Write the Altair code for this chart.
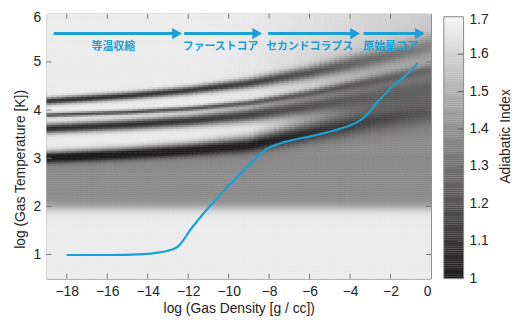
import numpy as np
import pandas as pd
import altair as alt

# ---------------- data ----------------
# evolution track (blue line)
track_logrho = [-18, -16, -14.2, -13.5, -13, -12.75, -12.5, -12.25, -12, -11.5, -11, -10.5, -10, -9.5,
                -9, -8.5, -8.2, -8, -7.5, -7, -6.5, -6, -5.5, -5, -4.5, -4, -3.6,
                -3.3, -3, -2.6, -2.2, -1.8, -1.4, -1, -0.65]
track_logT = [0.99, 0.99, 1.01, 1.04, 1.08, 1.11, 1.17, 1.29, 1.45, 1.72, 1.97, 2.20, 2.43, 2.64,
              2.85, 3.06, 3.17, 3.22, 3.30, 3.36, 3.41, 3.45, 3.50, 3.55, 3.61, 3.68, 3.76,
              3.85, 3.98, 4.19, 4.36, 4.53, 4.67, 4.82, 4.98]

# evolutionary phases (arrows on top)
phase_labels = ["等温収縮", "ファーストコア", "セカンドコラプス", "原始星コア"]
phase_start = [-18.65, -12.2, -8.05, -3.33]
phase_end = [-12.45, -8.49, -3.65, -0.45]
phase_label_x = [-15.7, -10.4, -6.0, -2.0]
arrow_logT = 5.59
label_logT = 5.30

# adiabatic-index field: dark bands (centre logT at density nodes)
node_logrho = [-19, -15, -12, -9, -6, -3, 0]
band_A = [4.19, 4.30, 4.41, 4.56, 4.78, 5.05, 5.35]
band_B = [3.90, 3.96, 4.03, 4.15, 4.35, 4.60, 4.85]
band_C = [3.62, 3.70, 3.78, 3.90, 4.08, 4.30, 4.50]
band_D = [3.03, 3.11, 3.19, 3.30, 3.58, 3.85, 4.05]
band_sigma = [0.05, 0.03, 0.07, 0.08]
band_depth = [0.62, 0.52, 0.62, 0.62]
band_spread = [1.0, 1.05, 1.15, 1.4, 1.9, 2.5, 3.0]
band_fade = [1.0, 1.0, 0.95, 0.85, 0.65, 0.45, 0.30]
dense_blend = [0.0, 0.0, 0.0, 0.05, 0.25, 0.5, 0.7]
gamma_light = 1.67
gamma_gray = 1.38
low_edge_logT = 1.97
upper_clear_logT = 5.3

x_ticks = [-18, -16, -14, -12, -10, -8, -6, -4, -2, 0]
y_ticks = [1, 2, 3, 4, 5, 6]
cbar_ticks = [1, 1.1, 1.2, 1.3, 1.4, 1.5, 1.6, 1.7]
cbar_tick_labels = ["1", "1.1", "1.2", "1.3", "1.4", "1.5", "1.6", "1.7"]

W, H = 389, 268

# ---------------- build the grid ----------------
nx, ny = 76, 134
dx, dy = 19 / nx, 5.5 / ny
xs = -19 + dx * np.arange(nx)
ys = 0.5 + dy * np.arange(ny)
X, Y = np.meshgrid(xs + dx / 2, ys + dy / 2)
sig = lambda z: 1 / (1 + np.exp(-z))
cD = np.interp(X, node_logrho, band_D)
s1 = sig((Y - low_edge_logT) / 0.06)
s2 = sig((Y - cD) / 0.04)
G = gamma_light - (gamma_light - gamma_gray) * s1 * (1 - s2)
b = np.interp(X, node_logrho, dense_blend) * sig((Y - 2.3) / 0.1)
b = b * (1 - 0.55 * sig((Y - upper_clear_logT) / 0.2))
G = G * (1 - b) + gamma_gray * b
spread = np.interp(X, node_logrho, band_spread)
fade = np.interp(X, node_logrho, band_fade)
for nodes, s, d in zip([band_A, band_B, band_C, band_D], band_sigma, band_depth):
    c = np.interp(X, node_logrho, nodes)
    G = G - d * fade * np.exp(-0.5 * ((Y - c) / (s * spread)) ** 2)
G = np.clip(G, 1.0, 1.7)
X0, Y0 = np.meshgrid(xs, ys)
grid = pd.DataFrame({
    "x0": np.round(X0.ravel(), 4), "x1": np.round(X0.ravel() + dx, 4),
    "y0": np.round(Y0.ravel(), 4), "y1": np.round(Y0.ravel() + dy, 4),
    "g": np.round(G.ravel(), 3)})

track = pd.DataFrame({"x": track_logrho, "y": track_logT})
phases = pd.DataFrame({"label": phase_labels, "x0": phase_start, "x1": phase_end,
                       "lx": phase_label_x, "ay": arrow_logT, "ly": label_logT})
xt = pd.DataFrame({"v": x_ticks[:-1]})
yt = pd.DataFrame({"v": y_ticks[:-1]})

FONT = "Liberation Sans"
BLUE = "#1a9fd6"
color_scale = alt.Scale(domain=[1, 1.7], range=["#1f1d1e", "#f7f7f7"])
xs_ = alt.Scale(domain=[-19, 0], nice=False, zero=False)
ys_ = alt.Scale(domain=[0.5, 6], nice=False, zero=False)

heat = alt.Chart(grid).mark_rect(clip=True, strokeWidth=0.6).encode(
    x=alt.X("x0:Q", scale=xs_, axis=alt.Axis(values=x_ticks, ticks=False, domain=False, grid=False,
                                            labelPadding=6, title="log (Gas Density [g / cc])",
                                            titlePadding=3)),
    x2="x1:Q",
    y=alt.Y("y0:Q", scale=ys_, axis=alt.Axis(values=y_ticks, ticks=False, domain=False, grid=False,
                                            labelPadding=6, labelFlush=1, labelFlushOffset=3,
                                            title="log (Gas Temperature [K])",
                                            titlePadding=6, titleY=157)),
    y2="y1:Q",
    color=alt.Color("g:Q", scale=color_scale, legend=None),
    stroke=alt.Color("g:Q", scale=color_scale, legend=None),
)

line = alt.Chart(track).mark_line(color=BLUE, strokeWidth=2.2, interpolate="monotone").encode(
    x=alt.X("x:Q", scale=xs_), y=alt.Y("y:Q", scale=ys_), order="x:Q")

arrows = alt.Chart(phases).mark_rule(color=BLUE, strokeWidth=3).encode(
    x=alt.X("x0:Q", scale=xs_), x2="x1:Q", y=alt.Y("ay:Q", scale=ys_))
heads = alt.Chart(phases).mark_point(shape="triangle-right", filled=True, color=BLUE,
                                     size=130, opacity=1, xOffset=-2).encode(
    x=alt.X("x1:Q", scale=xs_), y=alt.Y("ay:Q", scale=ys_))
labels = alt.Chart(phases).mark_text(color=BLUE, font="Noto Sans CJK JP", fontWeight="bold",
                                     fontSize=11).encode(
    x=alt.X("lx:Q", scale=xs_), y=alt.Y("ly:Q", scale=ys_), text="label:N")

TC = "#777777"
tb = alt.Chart(xt).mark_rule(color=TC).encode(x=alt.X("v:Q", scale=xs_), y=alt.value(H - 5), y2=alt.value(H))
tt = alt.Chart(xt).mark_rule(color=TC).encode(x=alt.X("v:Q", scale=xs_), y=alt.value(0), y2=alt.value(5))
tl = alt.Chart(yt).mark_rule(color=TC).encode(y=alt.Y("v:Q", scale=ys_), x=alt.value(0), x2=alt.value(5))
tr = alt.Chart(yt).mark_rule(color=TC).encode(y=alt.Y("v:Q", scale=ys_), x=alt.value(W - 5), x2=alt.value(W))

main = alt.layer(heat, line, arrows, heads, labels, tb, tt, tl, tr).properties(width=W, height=H)

# ---------------- colour bar ----------------
cb_vals = np.round(np.arange(1.0, 1.7, 0.005), 3)
cb = pd.DataFrame({"v": cb_vals, "v2": np.round(cb_vals + 0.0055, 4)})
cbs = alt.Scale(domain=[1, 1.7], range=[H, 3], nice=False, zero=False)
cbar_rect = alt.Chart(cb).mark_rect().encode(
    y=alt.Y("v:Q", scale=cbs, axis=None),
    y2="v2:Q",
    color=alt.Color("v:Q", scale=color_scale, legend=None),
)
cbt = pd.DataFrame({"v": cbar_ticks[1:-1]})
cbar_ticks_m = alt.Chart(cbt).mark_rule(color="#666666").encode(
    y=alt.Y("v:Q", scale=cbs, axis=None), x=alt.value(14), x2=alt.value(20))
cbar_frame = alt.Chart(pd.DataFrame({"a": [1.0], "b": [1.7]})).mark_rect(
    fill=None, stroke="#888888", strokeWidth=1).encode(y=alt.Y("a:Q", scale=cbs, axis=None), y2="b:Q",
                                                        x=alt.value(0), x2=alt.value(20))
cbl = pd.DataFrame({"v": cbar_ticks[:-1], "t": cbar_tick_labels[:-1]})
cbar_labels = alt.Chart(cbl).mark_text(align="left", baseline="middle", font=FONT, fontSize=14,
                                       color="#222222").encode(
    y=alt.Y("v:Q", scale=cbs, axis=None), x=alt.value(26), text="t:N")
cbl_top = pd.DataFrame({"v": cbar_ticks[-1:], "t": cbar_tick_labels[-1:]})
cbar_label_top = alt.Chart(cbl_top).mark_text(align="left", baseline="middle", font=FONT, fontSize=14,
                                              color="#222222", dy=3).encode(
    y=alt.Y("v:Q", scale=cbs, axis=None), x=alt.value(26), text="t:N")
cbar_title = alt.Chart(pd.DataFrame({"t": ["Adiabatic Index"]})).mark_text(
    angle=270, align="center", baseline="middle", font=FONT, fontSize=14, color="#222222").encode(
    x=alt.value(63), y=alt.value(124), text="t:N")
cbar = alt.layer(cbar_rect, cbar_ticks_m, cbar_frame, cbar_labels, cbar_label_top, cbar_title).properties(
    width=20, height=H, view=alt.ViewBackground(stroke=None))

chart = alt.hconcat(main, cbar, spacing=11).properties(
    padding={"left": 4, "top": 0, "right": 0, "bottom": 0}
).configure_axis(
    labelFont=FONT, titleFont=FONT, labelFontSize=14, titleFontSize=14,
    labelColor="#222222", titleColor="#222222", titleFontWeight="normal"
).configure_view(stroke="#888888", strokeWidth=1)

chart.save("out.html", embed_options={"renderer": "svg", "actions": False})
